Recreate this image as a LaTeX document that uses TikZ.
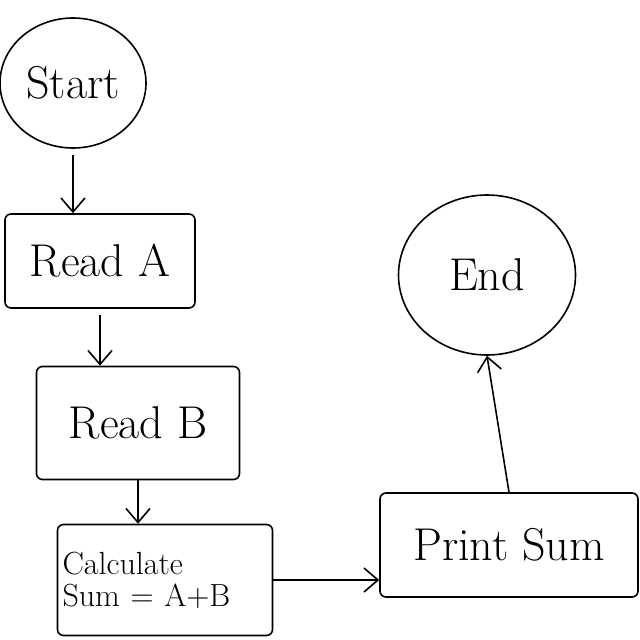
\documentclass[tikz,border=0pt]{standalone}
\usetikzlibrary{shapes.geometric, arrows.meta}

\begin{document}
\begin{tikzpicture}[x=1pt, y=-1pt, line width=1.6pt,
		terminal/.style={draw, ellipse, inner sep=0pt, font=\fontsize{46}{50}\selectfont},
		flowbox/.style={draw, rectangle, rounded corners=6pt, inner sep=0pt, font=\fontsize{46}{50}\selectfont},
		flow/.style={-{Straight Barb[length=14pt, width=24pt]}}]
				\useasboundingbox (0,0) rectangle (640,640);
				\node[terminal, minimum width=146pt, minimum height=130pt] (start) at (73,83) {Start};
				\node[flowbox, minimum width=190pt, minimum height=94pt]  (readA) at (100,261) {Read A};
				\node[flowbox, minimum width=203pt, minimum height=113pt] (readB) at (138,423) {Read B};
				\node[flowbox, minimum width=215pt, minimum height=111pt, text width=205pt, inner xsep=5pt,
					align=left, font=\fontsize{32}{32}\selectfont] (calc) at (165,580) {Calculate\\Sum = A+B};
				\node[flowbox, minimum width=258pt, minimum height=104pt] (print) at (509,545) {Print Sum};
				\node[terminal, minimum width=177pt, minimum height=160pt] (end) at (487,275) {End};
				\draw[flow, shorten <=6pt] (start.south) -- (start.south |- readA.north);
				\draw[flow, shorten <=6pt] (readA.south) -- (readA.south |- readB.north);
				\draw[flow]                (readB.south) -- (readB.south |- calc.north);
				\draw[flow]                (calc.east)   -- (calc.east -| print.west);
				\draw[flow]                (print.north) -- (end.south);
\end{tikzpicture}
\end{document}
